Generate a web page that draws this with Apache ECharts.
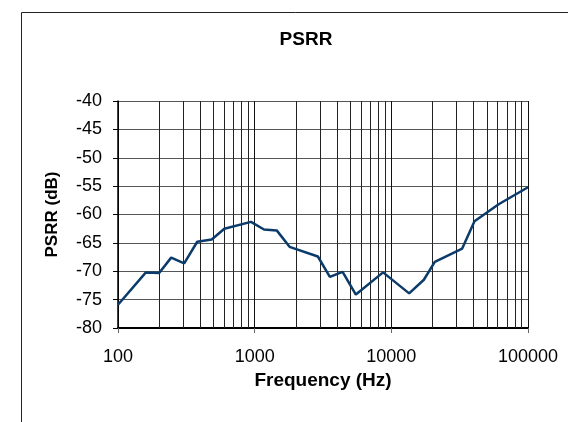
<!DOCTYPE html>
<html>
<head>
<meta charset="utf-8">
<script src="https://cdn.jsdelivr.net/npm/echarts@6/dist/echarts.min.js"></script>
<style>html,body{margin:0;padding:0;background:#fff;}#c{width:568px;height:422px;}</style>
</head>
<body>
<div id="c"></div>
<script>
const frequencies = [100, 160, 200, 245, 305, 380, 485, 600, 940, 1170, 1450, 1800, 2900, 3550, 4400, 5500, 8700, 13500, 17300, 20800, 33000, 40600, 61000, 100000];
const psrr = [-75.9, -70.2, -70.3, -67.6, -68.6, -64.8, -64.4, -62.5, -61.3, -62.65, -62.8, -65.7, -67.4, -71.0, -70.1, -74.1, -70.2, -73.9, -71.5, -68.35, -66.0, -61.2, -58.2, -55.2];
const xTickLabels = ['100', '1000', '10000', '100000'];
const yTicks = [-80, -75, -70, -65, -60, -55, -50, -45, -40];
const minorMultipliers = [2, 3, 4, 5, 6, 7, 8, 9];
const decades = [100, 1000, 10000];

const minorGrid = [];
decades.forEach(d => minorMultipliers.forEach(m => minorGrid.push({ xAxis: d * m })));

const FONT = "'Liberation Sans', Arial, sans-serif";
const chart = echarts.init(document.getElementById('c'), null, { renderer: 'canvas' });
chart.setOption({
  animation: false,
  backgroundColor: '#fff',
  title: {
    text: 'PSRR', left: 301, top: 25, textAlign: 'center',
    textStyle: { fontFamily: FONT, fontSize: 19, fontWeight: 'bold', color: '#000' }
  },
  graphic: [{
    type: 'rect', left: 19, top: 10, silent: true,
    shape: { x: 0, y: 0, width: 600, height: 500 },
    style: { fill: 'none', stroke: '#222', lineWidth: 1 }
  }],
  grid: { left: 118, right: 40, top: 101, bottom: 94, containLabel: false },
  xAxis: {
    type: 'log', logBase: 10, min: 100, max: 100000,
    name: 'Frequency (Hz)', nameLocation: 'middle', nameGap: 41,
    nameTextStyle: { fontFamily: FONT, fontSize: 19, fontWeight: 'bold', color: '#000' },
    axisLine: { show: true, onZero: false, lineStyle: { color: '#000', width: 2 } },
    axisTick: { show: true, length: 5, lineStyle: { color: '#666' } },
    axisLabel: {
      fontFamily: FONT, fontSize: 18, color: '#000', margin: 20,
      formatter: v => { const s = String(Math.round(v)); return xTickLabels.includes(s) ? s : ''; }
    },
    splitLine: { show: true, lineStyle: { color: '#111', width: 1 } },
    minorTick: { show: false }, minorSplitLine: { show: false }
  },
  yAxis: {
    type: 'value', min: -80, max: -40, interval: 5,
    name: 'PSRR (dB)', nameLocation: 'middle', nameGap: 57, nameRotate: 90,
    nameTextStyle: { fontFamily: FONT, fontSize: 17, fontWeight: 'bold', color: '#000' },
    axisLine: { show: true, lineStyle: { color: '#000', width: 1.5 } },
    axisTick: { show: true, length: 5, lineStyle: { color: '#000' } },
    axisLabel: {
      fontFamily: FONT, fontSize: 18, color: '#000', margin: 16,
      formatter: v => yTicks.includes(v) ? String(v) : ''
    },
    splitLine: { show: true, lineStyle: { color: '#555', width: 1 } }
  },
  series: [{
    type: 'line',
    data: frequencies.map((f, i) => [f, psrr[i]]),
    symbol: 'none',
    lineStyle: { color: '#0b3b6a', width: 2.5 },
    z: 5,
    markLine: {
      silent: true, symbol: ['none', 'none'], animation: false,
      label: { show: false },
      lineStyle: { color: '#222', width: 1, type: 'solid' },
      emphasis: { disabled: true },
      data: minorGrid
    }
  }]
});
</script>
</body>
</html>
